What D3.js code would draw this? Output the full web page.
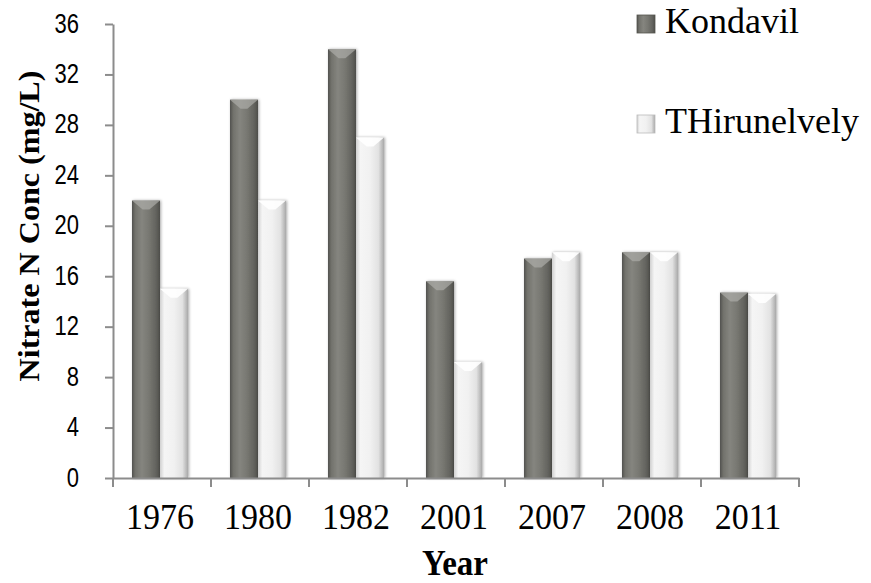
<!DOCTYPE html>
<html>
<head>
<meta charset="utf-8">
<script src="https://cdn.jsdelivr.net/npm/d3@7/dist/d3.min.js"></script>
<style>
  html, body { margin: 0; padding: 0; background: #fff; }
  svg { display: block; }
</style>
</head>
<body>
<svg id="chart" width="871" height="583"></svg>
<script>
// Nitrate N concentration by year for two wells
const years = ["1976", "1980", "1982", "2001", "2007", "2008", "2011"];
const seriesNames = ["Kondavil", "THirunelvely"];
const kondavil = [22.0, 30.0, 34.0, 15.6, 17.4, 17.9, 14.7];
const thirunelvely = [15.0, 22.0, 27.0, 9.2, 17.9, 17.9, 14.6];
const yTicks = [0, 4, 8, 12, 16, 20, 24, 28, 32, 36];

const svg = d3.select("#chart");
const plot = { left: 113, right: 799, top: 24, bottom: 478 };
const serif = "'Liberation Serif', 'Times New Roman', serif";
const sans = "'Liberation Sans', Arial, sans-serif";

const x = d3.scaleBand().domain(years).range([plot.left, plot.right]).padding(0);
const xs = d3.scaleBand().domain(seriesNames).range([0, 56]).padding(0);
const y = d3.scaleLinear().domain([0, 36]).range([plot.bottom, plot.top]);

// Gradients give the bars a rounded, bevelled look
const defs = svg.append("defs");
const grads = {
  Kondavil: [["0%", "#52524e"], ["12%", "#72726c"], ["35%", "#85857f"], ["60%", "#787872"], ["85%", "#64645f"], ["100%", "#4e4e4a"]],
  THirunelvely: [["0%", "#d0d0d0"], ["15%", "#f5f5f5"], ["50%", "#f1f1f1"], ["80%", "#e2e2e2"], ["100%", "#a9a9a9"]]
};
Object.entries(grads).forEach(([name, stops], i) => {
  const g = defs.append("linearGradient").attr("id", "g" + i)
    .attr("x1", "0%").attr("x2", "100%").attr("y1", "0%").attr("y2", "0%");
  stops.forEach(([o, c]) => g.append("stop").attr("offset", o).attr("stop-color", c));
});
const shadow = defs.append("filter").attr("id", "soft").attr("x", "-30%").attr("width", "160%").attr("y", "-5%").attr("height", "110%");
shadow.append("feGaussianBlur").attr("in", "SourceAlpha").attr("stdDeviation", 1.6).attr("result", "b");
shadow.append("feOffset").attr("in", "b").attr("dx", 1).attr("dy", 0).attr("result", "o");
shadow.append("feComponentTransfer").attr("in", "o").attr("result", "s")
  .append("feFuncA").attr("type", "linear").attr("slope", 0.35);
const merge = shadow.append("feMerge");
merge.append("feMergeNode").attr("in", "s");
merge.append("feMergeNode").attr("in", "SourceGraphic");

const rows = years.map((yr, i) => ({ year: yr, values: [kondavil[i], thirunelvely[i]] }));
const groupOffset = (x.bandwidth() - 56) / 2 - 2;

const groups = svg.append("g").selectAll("g").data(rows).join("g")
  .attr("transform", d => `translate(${x(d.year) + groupOffset},0)`);

const bars = groups.selectAll("g.bar")
  .data(d => d.values.map((v, i) => ({ name: seriesNames[i], value: v, idx: i })))
  .join("g").attr("class", "bar");

bars.append("rect")
  .attr("x", d => xs(d.name))
  .attr("y", d => y(d.value))
  .attr("width", xs.bandwidth())
  .attr("height", d => y(0) - y(d.value))
  .attr("fill", d => `url(#g${d.idx})`)
  .attr("filter", "url(#soft)");

// bevel highlight at the top of each bar
bars.append("path")
  .attr("d", d => {
    const x0 = xs(d.name), w = xs.bandwidth(), t = y(d.value);
    return `M${x0},${t}L${x0 + w},${t}L${x0 + w * 0.62},${t + 9}L${x0 + w * 0.38},${t + 9}Z`;
  })
  .attr("fill", d => d.idx === 0 ? "#adada8" : "#ffffff")
  .attr("opacity", d => d.idx === 0 ? 0.7 : 0.9);

// Axes
const yAxis = d3.axisLeft(y).tickValues(yTicks).tickSize(8).tickPadding(35).tickSizeOuter(0);
const gy = svg.append("g").attr("transform", `translate(${plot.left},0)`).call(yAxis);
gy.select(".domain").attr("stroke", "#8c8c8c").attr("stroke-width", 2);
gy.selectAll(".tick line").attr("stroke", "#8c8c8c").attr("stroke-width", 2);
gy.selectAll(".tick text")
  .attr("font-family", sans).attr("font-size", 22).attr("fill", "#000")
  .attr("text-anchor", "end")
  .attr("x", 0).attr("dy", null).attr("y", null)
  .attr("transform", "translate(-34,8) scale(1,1.27)");

const xAxis = d3.axisBottom(x).tickSize(0).tickPadding(0).tickSizeOuter(0);
const gx = svg.append("g").attr("transform", `translate(0,${plot.bottom})`).call(xAxis);
gx.select(".domain").attr("stroke", "#8c8c8c").attr("stroke-width", 2);
gx.selectAll(".tick text")
  .attr("font-family", serif).attr("font-size", 34).attr("fill", "#000")
  .attr("y", null).attr("dy", null)
  .attr("transform", "translate(-2,51) scale(1,1.08)");
// category boundary ticks
const edges = years.map(d => x(d)).concat([x(years[years.length - 1]) + x.bandwidth()]);
gx.append("g").selectAll("line").data(edges).join("line")
  .attr("x1", d => d).attr("x2", d => d)
  .attr("y1", 0).attr("y2", 9)
  .attr("stroke", "#8c8c8c").attr("stroke-width", 2);

// Axis titles
svg.append("text")
  .attr("transform", `translate(${(plot.left + plot.right) / 2 - 1},575) scale(1,1.1)`)
  .attr("text-anchor", "middle")
  .attr("font-family", serif).attr("font-weight", "bold").attr("font-size", 33)
  .text("Year");

svg.append("text")
  .attr("transform", `translate(39,226) scale(1,1.07) rotate(-90)`)
  .attr("text-anchor", "middle")
  .attr("font-family", serif).attr("font-weight", "bold").attr("font-size", 30)
  .text("Nitrate N Conc (mg/L)");

// Legend
const legend = svg.append("g").selectAll("g").data(seriesNames).join("g")
  .attr("transform", (d, i) => `translate(637,${15 + i * 100})`);
legend.append("rect").attr("width", 18).attr("height", 18)
  .attr("fill", (d, i) => `url(#g${i})`)
  .attr("stroke", (d, i) => i === 0 ? "#55554f" : "#bbbbbb").attr("stroke-width", 0.8);
legend.append("text").attr("x", 28).attr("y", 18)
  .attr("font-family", serif).attr("font-size", 36).attr("fill", "#000")
  .text(d => d);
</script>
</body>
</html>
